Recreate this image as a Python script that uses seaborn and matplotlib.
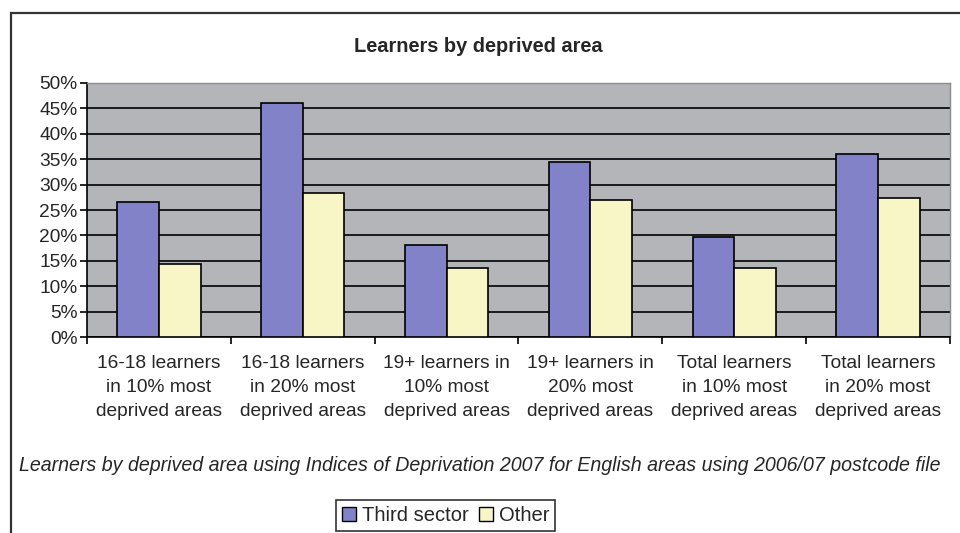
import seaborn as sns
import matplotlib.pyplot as plt
import pandas as pd
from matplotlib.patches import Rectangle
from matplotlib.ticker import FixedLocator, PercentFormatter

categories = [
    "16-18 learners\nin 10% most\ndeprived areas",
    "16-18 learners\nin 20% most\ndeprived areas",
    "19+ learners in\n10% most\ndeprived areas",
    "19+ learners in\n20% most\ndeprived areas",
    "Total learners\nin 10% most\ndeprived areas",
    "Total learners\nin 20% most\ndeprived areas",
]
third_sector = [26.6, 46.0, 18.2, 34.4, 19.7, 36.0]
other = [14.3, 28.4, 13.5, 27.0, 13.5, 27.3]
series = ["Third sector", "Other"]
colors = ["#8282c8", "#f8f5c6"]

df = pd.DataFrame({
    "category": categories * 2,
    "value": third_sector + other,
    "series": [series[0]] * len(categories) + [series[1]] * len(categories),
})

sns.set_style("white")
plt.rcParams["font.family"] = ["Liberation Sans", "DejaVu Sans"]

fig = plt.figure(figsize=(9.6, 5.33), dpi=100)
ax = fig.add_axes([0.0906, 0.3677, 0.899, 0.4766])

sns.barplot(data=df, x="category", y="value", hue="series", palette=colors,
            saturation=1, width=0.58, gap=0, edgecolor="black", linewidth=1.2,
            ax=ax, legend=False, zorder=3)

ax.set_facecolor("#b4b5b9")
ax.set_ylim(0, 50)
ax.set_xlim(-0.5, len(categories) - 0.5)
ax.yaxis.set_major_locator(FixedLocator(range(0, 51, 5)))
ax.yaxis.set_major_formatter(PercentFormatter(decimals=0))
ax.grid(axis="y", color="black", linewidth=1.2, zorder=0)
ax.set_axisbelow(True)

# ticks between groups, labels centred on groups
ax.set_xticks([i + 0.5 for i in range(-1, len(categories))])
ax.set_xticklabels([])
ax.set_xticks(range(len(categories)), minor=True)
ax.set_xticklabels(categories, minor=True, fontsize=13.8, linespacing=1.55)
ax.tick_params(axis="x", which="major", direction="out", length=5, width=1.2, color="black", bottom=True)
ax.tick_params(axis="x", which="minor", length=0, pad=13)
ax.tick_params(axis="y", direction="out", length=5, width=1.2, color="black", left=True,
               labelsize=13.8, pad=2)
ax.set_xlabel("")
ax.set_ylabel("")
for s in ["left", "bottom"]:
    ax.spines[s].set_color("black")
    ax.spines[s].set_linewidth(1.2)
for s in ["top", "right"]:
    ax.spines[s].set_color("#8c8c8c")
    ax.spines[s].set_linewidth(1)

fig.text(0.498, 0.912, "Learners by deprived area", ha="center", va="center",
         fontsize=14.4, fontweight="bold")
fig.text(0.4995, 0.126, "Learners by deprived area using Indices of Deprivation 2007 for English areas using 2006/07 postcode file",
         ha="center", va="center", fontsize=14.1, style="italic")

handles = [Rectangle((0, 0), 1, 1, facecolor=c, edgecolor="black", linewidth=1) for c in colors]
leg = fig.legend(handles, series, loc="center", bbox_to_anchor=(0.464, 0.0335), ncol=2,
                 frameon=True, fancybox=False, edgecolor="black", fontsize=14.5,
                 handlelength=0.7, handleheight=0.7, handletextpad=0.3, columnspacing=0.5,
                 borderpad=0.3, borderaxespad=0)
leg.get_frame().set_linewidth(1.2)

# outer chart frame (cropped at right and bottom)
fig.patches.append(Rectangle((11 / 960, -0.1), 1.1, (533 - 13) / 533 + 0.1,
                             transform=fig.transFigure, fill=False,
                             edgecolor="#333333", linewidth=1.6))

fig.savefig("out.png", dpi=100)
